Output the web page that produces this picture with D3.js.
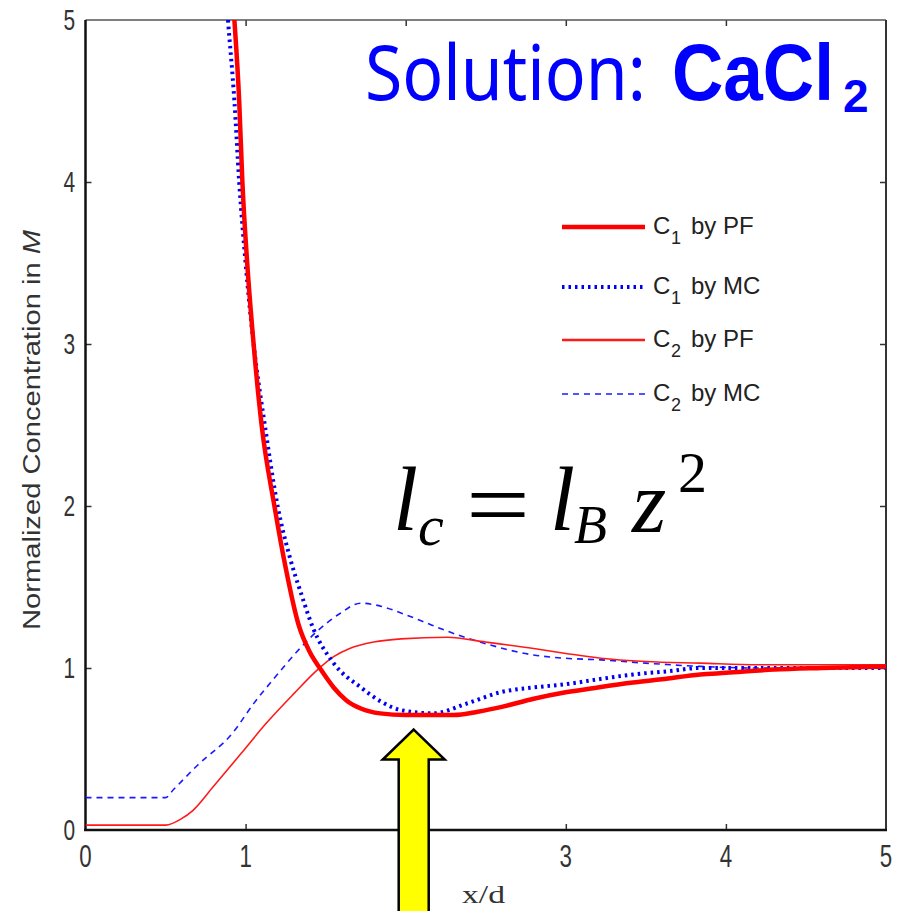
<!doctype html>
<html>
<head>
<meta charset="utf-8"/>
<title>Normalized concentration, CaCl2</title>
<script src="https://d3js.org/d3.v7.min.js"></script>
<style>
body { margin:0; background:#fff; }
</style>
</head>
<body>
<script type="text/javascript">
// values
var xTicks = [0, 1, 2, 3, 4, 5];
var yTicks = [0, 1, 2, 3, 4, 5];

var c1pfX = [0.90, 0.93, 0.96, 0.98, 1.01, 1.05, 1.10, 1.18, 1.25, 1.33, 1.40, 1.47, 1.55, 1.63, 1.72, 1.84, 2.0, 2.15, 2.3, 2.45, 2.6, 2.8, 3.0, 3.2, 3.42, 3.6, 3.84, 4.0, 4.3, 4.6, 5.0];
var c1pfY = [5.4, 5.0, 4.5, 4.0, 3.5, 3.0, 2.5, 2.0, 1.62, 1.27, 1.10, 0.99, 0.88, 0.80, 0.75, 0.72, 0.71, 0.71, 0.71, 0.73, 0.76, 0.81, 0.85, 0.88, 0.91, 0.93, 0.96, 0.97, 0.99, 1.0, 1.01];

var c1mcX = [0.86, 0.89, 0.93, 0.96, 1.0, 1.05, 1.12, 1.2, 1.28, 1.35, 1.42, 1.55, 1.72, 1.85, 1.97, 2.17, 2.38, 2.59, 2.8, 3.0, 3.2, 3.42, 3.64, 3.84, 4.1, 4.5, 5.0];
var c1mcY = [5.4, 5.0, 4.5, 4.0, 3.5, 3.0, 2.5, 2.0, 1.67, 1.45, 1.25, 1.03, 0.88, 0.79, 0.74, 0.72, 0.78, 0.85, 0.88, 0.90, 0.93, 0.96, 0.98, 1.0, 1.0, 1.0, 1.0];

var c2pfX = [0, 0.5, 0.6, 0.67, 0.8, 0.97, 1.13, 1.3, 1.45, 1.55, 1.65, 1.8, 1.97, 2.26, 2.5, 2.8, 3.0, 3.22, 3.5, 3.84, 4.2, 4.6, 5.0];
var c2pfY = [0.03, 0.03, 0.07, 0.12, 0.27, 0.47, 0.66, 0.84, 0.99, 1.07, 1.12, 1.16, 1.18, 1.19, 1.16, 1.12, 1.09, 1.06, 1.04, 1.03, 1.02, 1.02, 1.02];

var c2mcX = [0, 0.5, 0.55, 0.7, 0.92, 1.05, 1.19, 1.32, 1.45, 1.58, 1.72, 1.85, 1.97, 2.1, 2.28, 2.5, 2.8, 3.0, 3.22, 3.5, 3.84, 4.2, 5.0];
var c2mcY = [0.2, 0.2, 0.25, 0.4, 0.6, 0.78, 0.95, 1.1, 1.23, 1.33, 1.40, 1.38, 1.34, 1.29, 1.22, 1.15, 1.08, 1.06, 1.05, 1.03, 1.01, 1.0, 1.0];

var legendSub = ["1", "1", "2", "2"];
var legendRest = ["by PF", "by MC", "by PF", "by MC"];

var arrowAt = [2.05, 0.62];   // tip of the yellow arrow, in data units

var svg = d3.select("body").append("svg")
    .attr("width", 901)
    .attr("height", 911);

var x = d3.scaleLinear().domain([0, 5]).range([85.5, 886]);
var y = d3.scaleLinear().domain([0, 5]).range([830, 20]);

// clip so the steep curves stop at the frame
svg.append("clipPath").attr("id", "plot")
  .append("rect").attr("x", 85.5).attr("y", 20).attr("width", 800.5).attr("height", 810);

// ticks (inside) on all four sides
function ticksOnly(ax){ return ax.tickFormat("").tickSizeOuter(0); }
svg.append("g").attr("transform", "translate(0,830)")
    .call(ticksOnly(d3.axisBottom(x).tickValues([1, 2, 3, 4]).tickSize(-6)));
svg.append("g").attr("transform", "translate(0,20)")
    .call(ticksOnly(d3.axisTop(x).tickValues([1, 2, 3, 4]).tickSize(-6)));
svg.append("g").attr("transform", "translate(85.5,0)")
    .call(ticksOnly(d3.axisLeft(y).tickValues([1, 2, 3, 4]).tickSize(-6)));
svg.append("g").attr("transform", "translate(886,0)")
    .call(ticksOnly(d3.axisRight(y).tickValues([1, 2, 3, 4]).tickSize(-6)));
svg.selectAll(".domain").remove();
svg.selectAll(".tick line").attr("stroke", "#333").attr("stroke-width", 1.5);

// frame
svg.append("line").attr("x1", 85.5).attr("x2", 886).attr("y1", 20).attr("y2", 20).attr("stroke", "#555").attr("stroke-width", 1.5);
svg.append("line").attr("x1", 886).attr("x2", 886).attr("y1", 20).attr("y2", 831).attr("stroke", "#333").attr("stroke-width", 2);
svg.append("line").attr("x1", 85.5).attr("x2", 85.5).attr("y1", 20).attr("y2", 831).attr("stroke", "#111").attr("stroke-width", 2.5);
svg.append("line").attr("x1", 84).attr("x2", 887).attr("y1", 830).attr("y2", 830).attr("stroke", "#111").attr("stroke-width", 2.5);

// tick labels, narrow and tall like the picture
svg.selectAll(".ylab").data(yTicks).enter().append("text")
    .attr("class", "ylab")
    .attr("transform", function(d){ return "translate(75," + (y(d) + 10) + ") scale(0.72,1)"; })
    .attr("text-anchor", "end")
    .attr("font-family", "Liberation Sans, Arial, sans-serif")
    .attr("font-size", 29)
    .attr("fill", "#333")
    .text(function(d){ return d; });

svg.selectAll(".xlab").data(xTicks.filter(function(d){ return d !== 2; })).enter().append("text")
    .attr("class", "xlab")
    .attr("transform", function(d){ return "translate(" + x(d) + ",867) scale(0.72,1)"; })
    .attr("text-anchor", "middle")
    .attr("font-family", "Liberation Sans, Arial, sans-serif")
    .attr("font-size", 31)
    .attr("fill", "#333")
    .text(function(d){ return d; });

// axis titles
svg.append("text")
    .attr("transform", "translate(40,430) rotate(-90)")
    .attr("text-anchor", "middle")
    .attr("font-family", "Liberation Sans, Arial, sans-serif")
    .attr("font-size", 23)
    .attr("fill", "#333")
    .attr("textLength", 400)
    .attr("lengthAdjust", "spacingAndGlyphs")
    .html('Normalized Concentration in <tspan font-style="italic">M</tspan>');

svg.append("text")
    .attr("x", 462).attr("y", 903)
    .attr("font-family", "Liberation Serif, Times New Roman, serif")
    .attr("font-size", 26)
    .attr("fill", "#333")
    .attr("textLength", 43)
    .attr("lengthAdjust", "spacingAndGlyphs")
    .text("x/d");

// curves
function pts(xs, ys){ return xs.map(function(v, i){ return [v, ys[i]]; }); }
var line = d3.line()
    .x(function(d){ return x(d[0]); })
    .y(function(d){ return y(d[1]); })
    .curve(d3.curveMonotoneX);

var series = [
  { data: pts(c2mcX, c2mcY), color: "#1a1aff", width: 1.6, dash: "6,5" },
  { data: pts(c2pfX, c2pfY), color: "#ff1a1a", width: 1.6, dash: null },
  { data: pts(c1mcX, c1mcY), color: "#0000ee", width: 4, dash: "2.5,4" },
  { data: pts(c1pfX, c1pfY), color: "#ff0000", width: 4.5, dash: null }
];

var plot = svg.append("g").attr("clip-path", "url(#plot)");
plot.selectAll("path").data(series).enter().append("path")
    .attr("d", function(d){ return line(d.data); })
    .attr("fill", "none")
    .attr("stroke", function(d){ return d.color; })
    .attr("stroke-width", function(d){ return d.width; })
    .attr("stroke-dasharray", function(d){ return d.dash; });

// legend
var legendStyle = [
  { color: "#ff0000", width: 4.5, dash: null },
  { color: "#0000ee", width: 4, dash: "2.5,4" },
  { color: "#ff1a1a", width: 2.5, dash: null },
  { color: "#1a1aff", width: 1.6, dash: "6,5" }
];
var legendY = [227, 287, 340, 394];
var lg = svg.append("g");
legendSub.forEach(function(s, i){
  lg.append("line")
    .attr("x1", 562).attr("x2", 645).attr("y1", legendY[i]).attr("y2", legendY[i])
    .attr("stroke", legendStyle[i].color)
    .attr("stroke-width", legendStyle[i].width)
    .attr("stroke-dasharray", legendStyle[i].dash);
  var t = lg.append("text")
    .attr("y", legendY[i] + 7)
    .attr("font-family", "Liberation Sans, Arial, sans-serif")
    .attr("font-size", 24)
    .attr("fill", "#222");
  t.append("tspan").attr("x", 653).text("C");
  t.append("tspan").attr("x", 671).attr("dy", 10).attr("font-size", 18).text(s);
  t.append("tspan").attr("x", 691).attr("dy", -10).text(legendRest[i]);
});

// title
svg.append("text")
    .attr("x", 365).attr("y", 100)
    .attr("font-family", "Noto Sans, Open Sans, sans-serif")
    .attr("font-size", 76)
    .attr("fill", "#0000ff")
    .attr("textLength", 281)
    .attr("lengthAdjust", "spacingAndGlyphs")
    .text("Solution:");
svg.append("text")
    .attr("transform", "translate(672,100) scale(0.9,1)")
    .attr("font-family", "Liberation Sans, Arial, sans-serif")
    .attr("font-weight", "bold")
    .attr("font-size", 79)
    .attr("fill", "#0000ff")
    .text("CaCl");
svg.append("text")
    .attr("x", 843).attr("y", 112)
    .attr("font-family", "Liberation Sans, Arial, sans-serif")
    .attr("font-weight", "bold")
    .attr("font-size", 46)
    .attr("fill", "#0000ff")
    .text("2");

// formula l_c = l_B z^2
var serif = "Liberation Serif, Times New Roman, serif";
var fm = svg.append("g").attr("fill", "#000").attr("font-family", serif);
fm.append("text").attr("x", 393).attr("y", 530).attr("font-size", 90).attr("font-style", "italic").text("l");
fm.append("text").attr("x", 418).attr("y", 545).attr("font-size", 58).attr("font-style", "italic").text("c");
fm.append("text").attr("x", 466).attr("y", 537).attr("font-size", 96)
    .attr("textLength", 64).attr("lengthAdjust", "spacingAndGlyphs").text("=");
fm.append("text").attr("x", 550).attr("y", 530).attr("font-size", 90).attr("font-style", "italic").text("l");
fm.append("text").attr("x", 574).attr("y", 543).attr("font-size", 54).attr("font-style", "italic").text("B");
fm.append("text").attr("x", 632).attr("y", 532).attr("font-size", 88).attr("font-style", "italic").text("z");
fm.append("text").attr("x", 678).attr("y", 492).attr("font-size", 58).text("2");

// yellow arrow pointing at the minimum
var ax = x(arrowAt[0]), ay = y(arrowAt[1]);
var arrow = [[ax, ay], [ax + 31, ay + 30], [ax + 15, ay + 30], [ax + 15, 915],
             [ax - 15, 915], [ax - 15, ay + 30], [ax - 31, ay + 30]];
svg.append("polygon")
    .attr("points", arrow.map(function(p){ return p.join(","); }).join(" "))
    .attr("fill", "#ffff00")
    .attr("stroke", "#000")
    .attr("stroke-width", 2.5)
    .attr("stroke-linejoin", "miter");
</script>
</body>
</html>
